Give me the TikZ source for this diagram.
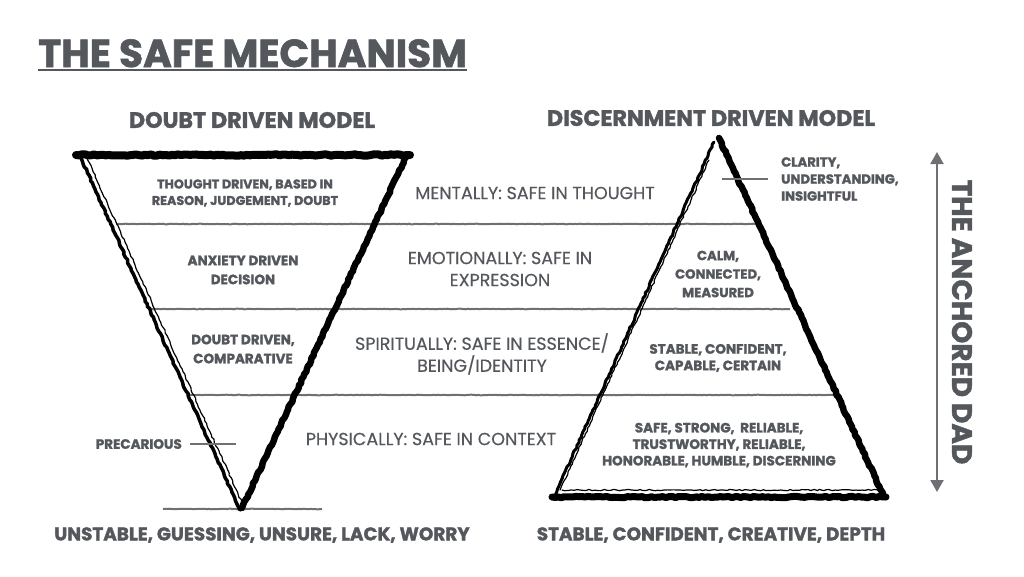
\documentclass[tikz,border=0pt]{standalone}
\usepackage{fontspec}
\setmainfont{Poppins}[BoldFeatures={FakeBold=1.6}, UprightFeatures={FakeBold=0.4}]
\usetikzlibrary{arrows.meta,decorations.pathmorphing,positioning}
\definecolor{inkgrey}{HTML}{54575C}
\definecolor{rulegrey}{HTML}{6E7074}
\tikzset{
  heading/.style={font=\fontsize{22.3}{24}\selectfont\bfseries, text=inkgrey, inner sep=0pt},
  tag/.style={font=\fontsize{13.5}{16.5}\selectfont\bfseries, text=inkgrey, align=center, inner sep=0pt},
  level/.style={font=\fontsize{17.5}{22}\selectfont, text=inkgrey, align=center, inner sep=0pt},
  brush/.style={line width=#1, decorate, decoration={random steps,segment length=3pt,amplitude=.7pt}, line cap=round, line join=round},
  divider/.style={rulegrey, line width=2pt, decorate, decoration={random steps,segment length=2pt,amplitude=.3pt}},
}
\begin{document}
\begin{tikzpicture}[x=1pt,y=-1pt]
\pgfmathsetseed{7}
\useasboundingbox (0,0) rectangle (1024,576);
% title
\node[anchor=base west, inner sep=0pt, text=inkgrey, font=\fontsize{39}{42}\selectfont\bfseries] (title) at (38,67) {THE SAFE MECHANISM};
\draw[inkgrey, line width=2.2pt] ([yshift=-3pt]title.base west) -- ([yshift=-3pt]title.base east);
\node[heading] (leftmodel) at (252,120) {DOUBT DRIVEN MODEL};
\node[heading] (rightmodel) at (711,118) {DISCERNMENT DRIVEN MODEL};
% levels
\draw[divider] (117,224) -- (757,224);
\draw[divider] (148,309) -- (790,309);
\draw[divider] (190,395) -- (833,395);
\draw[divider] (163,509) -- (322,509);
% doubt driven triangle
\draw[brush=8pt] (76,155) -- (410,155);
\draw[brush=3.5pt] (80,156) -- (240,510);
\draw[brush=1.2pt] (87,158) -- (243,505);
\draw[brush=6.5pt] (406,157) -- (242,508);
% discernment driven triangle
\draw[brush=3pt] (714,142) -- (554,497);
\draw[brush=1.2pt] (709,160) -- (560,490);
\draw[brush=6.5pt] (719,138) -- (884,497);
\draw[brush=7pt] (552,497) -- (886,497);
\draw[brush=1.2pt] (562,490) -- (878,490);
% texts inside
\node[tag, font=\fontsize{12.7}{16.5}\selectfont\bfseries] (thought) at (245,193) {THOUGHT DRIVEN, BASED IN\\REASON, JUDGEMENT, DOUBT};
\node[tag, font=\fontsize{13.5}{19}\selectfont\bfseries] (anxiety) at (243,270) {ANXIETY DRIVEN\\DECISION};
\node[tag, font=\fontsize{13.5}{19}\selectfont\bfseries] (doubt) at (243,349) {DOUBT DRIVEN,\\COMPARATIVE};
\node[tag, anchor=east] (precarious) at (182,444) {PRECARIOUS};
\draw[rulegrey, line width=2pt] ([xshift=8pt]precarious.east) -- ++(46,0);
\node[tag, anchor=west, align=left, font=\fontsize{13.2}{17}\selectfont\bfseries] (clarity) at (781,179) {CLARITY,\\UNDERSTANDING,\\INSIGHTFUL};
\draw[rulegrey, line width=2pt] ([xshift=-13pt]clarity.west) -- ++(-46,0);
\node[tag, font=\fontsize{13.2}{18.5}\selectfont\bfseries] (calm) at (718,274) {CALM,\\CONNECTED,\\MEASURED};
\node[tag] (stable) at (718,358) {STABLE, CONFIDENT,\\CAPABLE, CERTAIN};
\node[tag] (safe) at (719,445) {SAFE, STRONG,\ \ RELIABLE,\\TRUSTWORTHY, RELIABLE,\\HONORABLE, HUMBLE, DISCERNING};
% middle
\node[level] (mental) at (535,193) {MENTALLY: SAFE IN THOUGHT};
\node[level] (emotion) at (500,269) {EMOTIONALLY: SAFE IN\\EXPRESSION};
\node[level] (spirit) at (482,354) {SPIRITUALLY: SAFE IN ESSENCE/\\BEING/IDENTITY};
\node[level] (physical) at (431,439) {PHYSICALLY: SAFE IN CONTEXT};
% bottom
\node[heading, font=\fontsize{18.4}{22}\selectfont\bfseries] (unstable) at (262,535) {UNSTABLE, GUESSING, UNSURE, LACK, WORRY};
\node[heading, font=\fontsize{18.4}{22}\selectfont\bfseries] (depth) at (711,535) {STABLE, CONFIDENT, CREATIVE, DEPTH};
% anchor arrow
\coordinate (atop) at (937,152);
\coordinate (abot) at (937,492);
\draw[rulegrey, line width=2pt, {Triangle[width=13pt,length=12pt]}-{Triangle[width=13pt,length=12pt]}] (atop) -- (abot);
\node[heading, rotate=-90, font=\fontsize{28}{30}\selectfont\bfseries] (anchored) at (962,322) {THE ANCHORED DAD};
\end{tikzpicture}
\end{document}
